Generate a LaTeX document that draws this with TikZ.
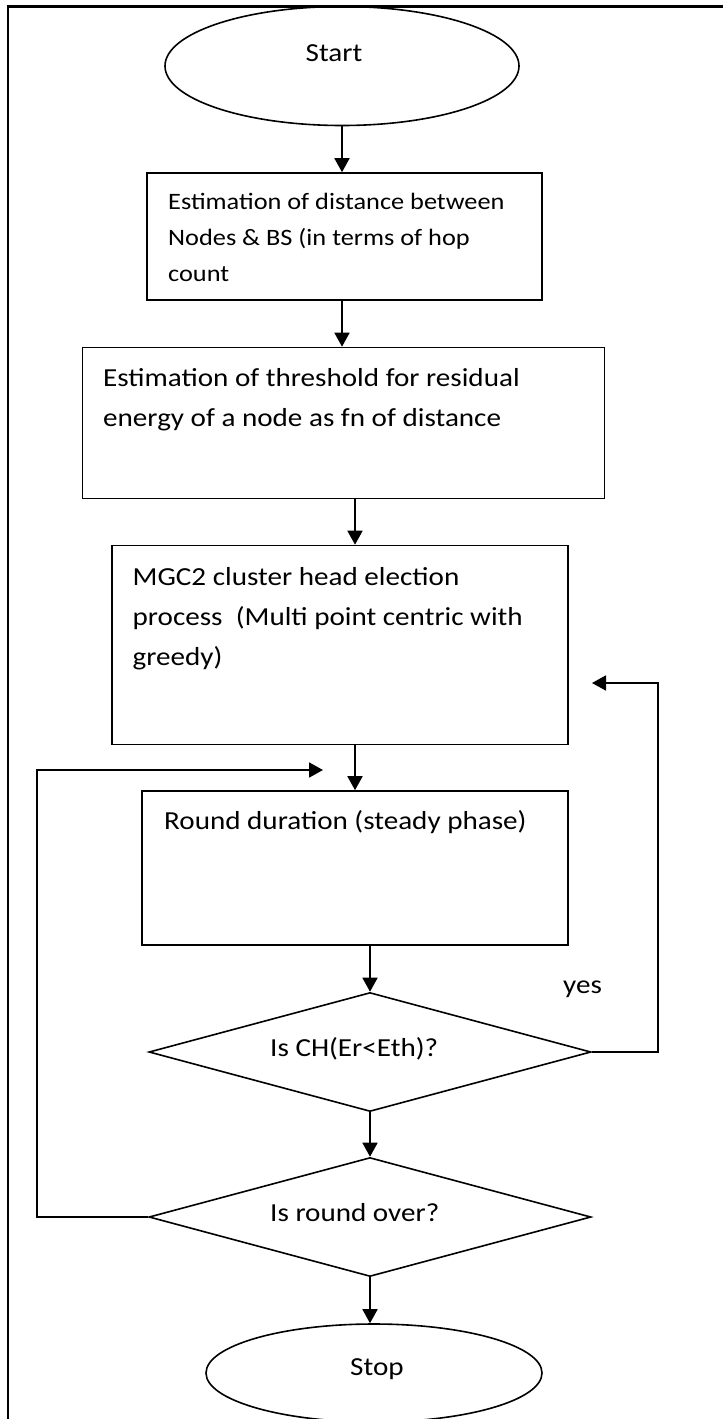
\documentclass[tikz,border=0pt]{standalone}
\usepackage{fontspec}
\setmainfont{Carlito}[FakeStretch=1.12]
\usetikzlibrary{shapes.geometric,arrows.meta}
\newcommand\bigtxt{\fontsize{26}{40}\selectfont}
\newcommand\smalltxt{\fontsize{23.5}{36}\selectfont}
\tikzset{
  box/.style={draw, line width=1.6pt, inner sep=0pt},
  oval/.style={draw, ellipse, line width=1.6pt, inner sep=0pt},
  test/.style={draw, diamond, aspect=3.7, line width=1.6pt, inner sep=0pt,
    minimum width=442pt, minimum height=119pt},
  txt/.style={inner sep=0pt, anchor=base west, align=left, font=\bigtxt},
  flow/.style={line width=1.8pt, -{Triangle[length=14pt,width=15pt]}}
}
\begin{document}
\begin{tikzpicture}[x=1pt, y=-1pt]
  \useasboundingbox (0,0) rectangle (723,1419);
  \draw[line width=2.4pt] (8,1419) -- (8,6.5) -- (723,6.5);

  \node[oval, minimum width=354pt, minimum height=119pt] (start) at (342,66) {};
  \node[box, minimum width=395pt, minimum height=127pt] (dist) at (344.5,236.5) {};
  \node[box, minimum width=522pt, minimum height=151pt] (thresh) at (343.5,423) {};
  \node[box, minimum width=456pt, minimum height=199pt] (elect) at (340,645) {};
  \node[box, minimum width=426pt, minimum height=154pt] (round) at (355,868) {};
  \node[test] (chk) at (370,1052) {};
  \node[test] (over) at (370,1217) {};
  \node[oval, minimum width=336pt, minimum height=98pt] (stop) at (374,1373) {};

  \node[txt] (starttxt) at (305.5,61) {Start};
  \node[txt, font=\smalltxt] (disttxt) at (168,281)
    {Estimation of distance between\\Nodes \& BS (in terms of hop\\count};
  \node[txt] (threshtxt) at (103,426.5)
    {Estimation of threshold for residual\\energy of a node as fn of distance};
  \node[txt] (electtxt) at (132.5,665.5)
    {MGC2 cluster head election\\process\ \ (Multi point centric with\\greedy)};
  \node[txt] (roundtxt) at (164,829) {Round duration (steady phase)};
  \node[txt] (chktxt) at (270,1056) {Is CH(Er<Eth)?};
  \node[txt] (overtxt) at (270,1221.5) {Is round over?};
  \node[txt] (stoptxt) at (350,1375) {Stop};
  \node[txt] (yes) at (563,993) {yes};

  \coordinate (back) at (592,683);
  \coordinate (loop) at (323,770);

  \draw[flow] (start.south) -- (start.south |- dist.north);
  \draw[flow] (dist.south -| start.south) -- (thresh.north -| start.south);
  \draw[flow] (thresh.south -| round.north) -- (elect.north -| round.north);
  \draw[flow] (elect.south -| round.north) -- (round.north);
  \draw[flow] (round.south -| chk.north) -- (chk.north);
  \draw[flow] (chk.south) -- (over.north);
  \draw[flow] (over.south) -- (over.south |- stop.north);
  \draw[flow] (chk.east) -- ++(66,0) |- (back);
  \draw[flow] (over.west) -- ++(-111,0) |- (loop);
\end{tikzpicture}
\end{document}
